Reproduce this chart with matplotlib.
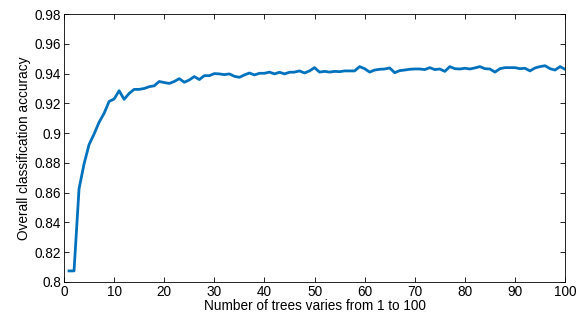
import numpy as np
import matplotlib
matplotlib.use("Agg")
import matplotlib.pyplot as plt

# number of trees in the forest
n_trees = np.arange(1, 101)

# overall classification accuracy
accuracy = [
    0.8074, 0.8074, 0.8626, 0.8793, 0.8923, 0.8994, 0.9073, 0.9133, 0.9213, 0.9229,
    0.9285, 0.9227, 0.9267, 0.9294, 0.9294, 0.9300, 0.9312, 0.9318, 0.9347, 0.9340,
    0.9334, 0.9347, 0.9366, 0.9342, 0.9357, 0.9380, 0.9360, 0.9386, 0.9386, 0.9400,
    0.9398, 0.9393, 0.9398, 0.9382, 0.9375, 0.9391, 0.9404, 0.9391, 0.9402, 0.9402,
    0.9410, 0.9398, 0.9409, 0.9398, 0.9409, 0.9410, 0.9418, 0.9404, 0.9418, 0.9440,
    0.9410, 0.9415, 0.9410, 0.9415, 0.9413, 0.9418, 0.9418, 0.9418, 0.9447, 0.9433,
    0.9410, 0.9424, 0.9429, 0.9431, 0.9438, 0.9406, 0.9420, 0.9424, 0.9429, 0.9431,
    0.9431, 0.9427, 0.9440, 0.9427, 0.9431, 0.9415, 0.9447, 0.9433, 0.9431, 0.9436,
    0.9431, 0.9438, 0.9447, 0.9433, 0.9431, 0.9410, 0.9433, 0.9440, 0.9440, 0.9440,
    0.9433, 0.9436, 0.9418, 0.9438, 0.9447, 0.9453, 0.9433, 0.9424, 0.9447, 0.9429,
]

x_ticks = np.arange(0, 101, 10)
y_ticks = [0.8, 0.82, 0.84, 0.86, 0.88, 0.9, 0.92, 0.94, 0.96, 0.98]
y_tick_labels = ["0.8", "0.82", "0.84", "0.86", "0.88", "0.9", "0.92", "0.94", "0.96", "0.98"]

plt.rcParams["font.family"] = ["Liberation Sans", "DejaVu Sans"]
plt.rcParams["font.size"] = 9.8

fig = plt.figure(figsize=(5.84, 3.2), dpi=100)
ax = fig.add_axes([0.1096, 0.119, 0.858, 0.837])

ax.plot(n_trees, accuracy, color="#0072BD", linewidth=2.0)

ax.set_xlim(0, 100)
ax.set_ylim(0.8, 0.98)
ax.set_xticks(x_ticks)
ax.set_yticks(y_ticks)
ax.set_yticklabels(y_tick_labels)
ax.tick_params(direction="in", top=True, right=True, length=3.5, width=0.6, pad=2)
for spine in ax.spines.values():
    spine.set_linewidth(0.6)

ax.set_xlabel("Number of trees varies from 1 to 100", labelpad=0)
ax.set_ylabel("Overall classification accuracy", labelpad=3)

fig.savefig("out.png", dpi=100)
